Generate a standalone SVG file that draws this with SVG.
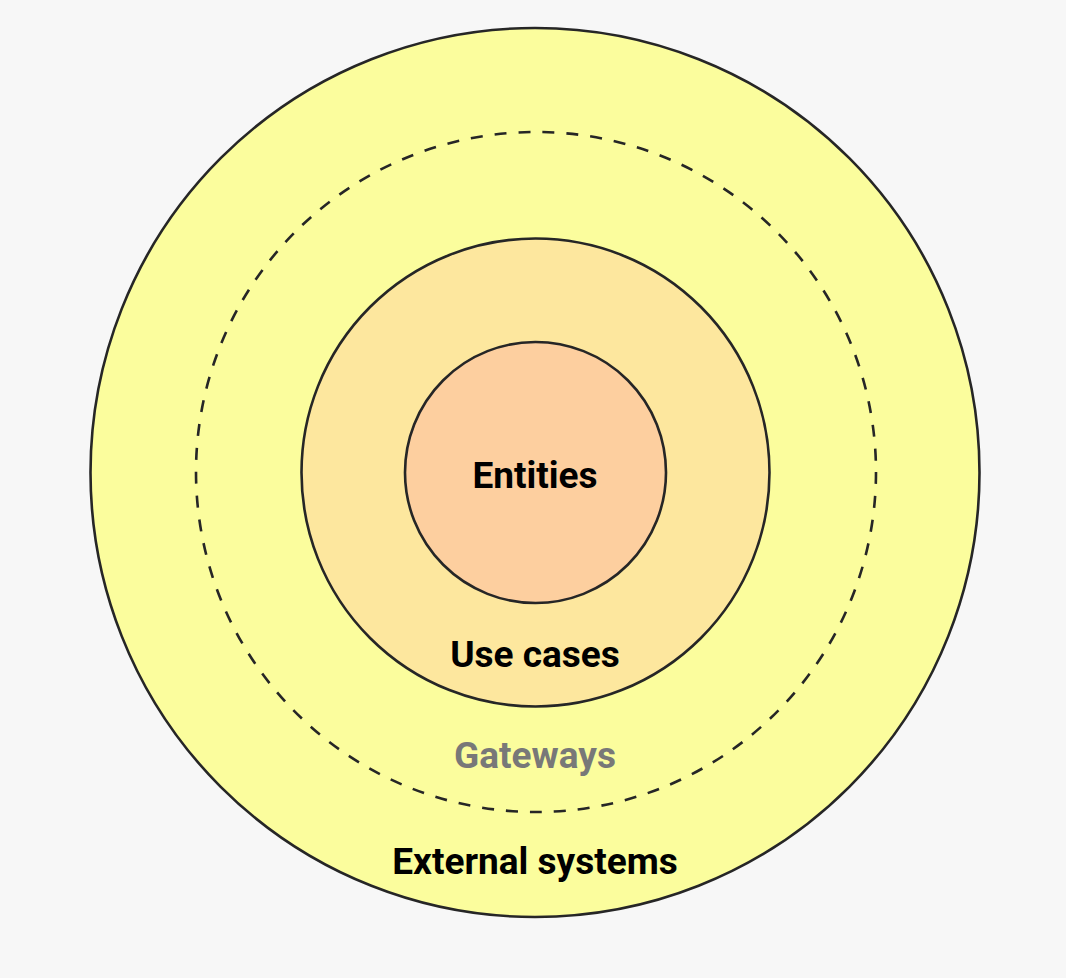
<svg xmlns="http://www.w3.org/2000/svg" width="1066" height="978" viewBox="0 0 1066 978">
<style>
.ring{stroke:#262626;stroke-width:2.6}
.lbl{font-family:Roboto,"Liberation Sans",sans-serif;font-weight:700;text-anchor:middle;fill:#000;font-size:37px}
</style>
<rect width="1066" height="978" fill="#f7f7f7"/>
<g id="external">
<circle class="ring" cx="535" cy="472.5" r="444.5" fill="#fbfd9d"/>
<text class="lbl" x="535" y="874">External systems</text>
</g>
<g id="gateways">
<circle cx="536" cy="472" r="340" fill="none" stroke="#262626" stroke-width="2.6" stroke-dasharray="12 12"/>
<text class="lbl" x="535" y="768" style="fill:#787878">Gateways</text>
</g>
<g id="usecases">
<circle class="ring" cx="535.5" cy="472.5" r="234" fill="#fde79e"/>
<text class="lbl" x="535" y="667">Use cases</text>
</g>
<g id="entities">
<circle class="ring" cx="535.5" cy="472.5" r="130.5" fill="#fdcf9f"/>
<text class="lbl" x="535" y="488">Entities</text>
</g>
<g id="connectors"/>
</svg>
